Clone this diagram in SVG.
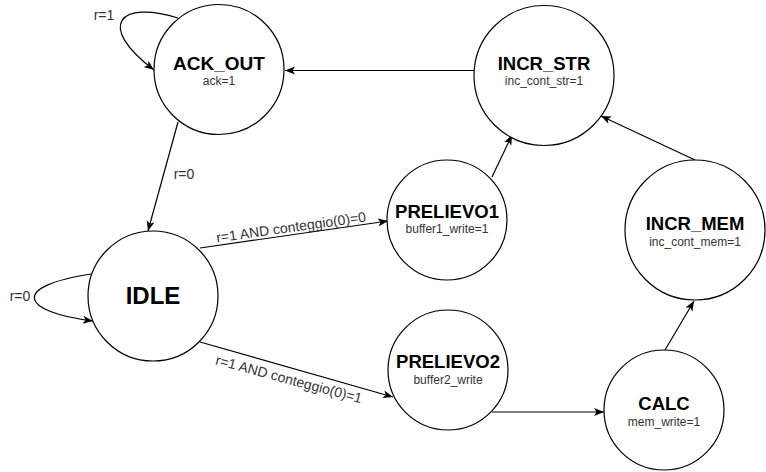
<svg xmlns="http://www.w3.org/2000/svg" width="766" height="472" viewBox="0 0 766 472">
<style>
.node{fill:#fff;stroke:#000;stroke-width:1.2}
.name{font-family:"Liberation Sans",Arial,sans-serif;font-weight:bold;font-size:18.5px;fill:#000;text-anchor:middle}
.sub{font-family:"Liberation Sans",Arial,sans-serif;font-size:12px;fill:#333;text-anchor:middle}
.lbl{font-family:"Liberation Sans",Arial,sans-serif;font-size:14px;fill:#333;text-anchor:middle}
.edge{fill:none;stroke:#000;stroke-width:1.2;marker-end:url(#arr)}
</style>
<defs>
<marker id="arr" markerUnits="userSpaceOnUse" markerWidth="12" markerHeight="10" refX="10" refY="4" orient="auto" viewBox="0 0 12 10">
<path d="M0,0 L10,4 L0,8 L2.5,4 z" fill="#000"/>
</marker>
</defs>
<rect width="766" height="472" fill="#fff"/>
<g id="connectors">
<path class="edge" d="M474,70.5 L285,70.5"/>
<path class="edge" d="M178,122 L148,231"/>
<path class="edge" d="M178,18 C120,0 95,25 154,70"/>
<path class="edge" d="M92,274 C10,286 20,312 93,321"/>
<path class="edge" d="M200,248 L388,221"/>
<path class="edge" d="M200,342 L393,397"/>
<path class="edge" d="M492,177 L512,135"/>
<path class="edge" d="M492,412 L604,412"/>
<path class="edge" d="M665,350 L694,301"/>
<path class="edge" d="M695,160 L601,116"/>
<text class="lbl" x="104" y="20">r=1</text>
<text class="lbl" x="184" y="179">r=0</text>
<text class="lbl" x="20" y="301">r=0</text>
<text class="lbl" transform="translate(291,227) rotate(-8)" y="5">r=1 AND conteggio(0)=0</text>
<text class="lbl" transform="translate(289,379) rotate(15)" y="5">r=1 AND conteggio(0)=1</text>
</g>
<g id="ACK_OUT">
<circle class="node" cx="219" cy="69.5" r="65"/>
<text class="name" x="219" y="70" style="font-size:19px">ACK_OUT</text>
<text class="sub" x="219" y="85">ack=1</text>
</g>
<g id="INCR_STR">
<circle class="node" cx="544" cy="75.5" r="70"/>
<text class="name" x="544" y="70">INCR_STR</text>
<text class="sub" x="544" y="85">inc_cont_str=1</text>
</g>
<g id="IDLE">
<circle class="node" cx="153" cy="296" r="65"/>
<text class="name" x="153" y="304" style="font-size:24px">IDLE</text>
</g>
<g id="PRELIEVO1">
<circle class="node" cx="447" cy="220" r="60"/>
<text class="name" x="447" y="218">PRELIEVO1</text>
<text class="sub" x="447" y="233">buffer1_write=1</text>
</g>
<g id="INCR_MEM">
<circle class="node" cx="695" cy="230" r="70"/>
<text class="name" x="695" y="230">INCR_MEM</text>
<text class="sub" x="695" y="246">inc_cont_mem=1</text>
</g>
<g id="PRELIEVO2">
<circle class="node" cx="448" cy="370" r="60"/>
<text class="name" x="448" y="368">PRELIEVO2</text>
<text class="sub" x="448" y="384">buffer2_write</text>
</g>
<g id="CALC">
<circle class="node" cx="664" cy="410" r="60"/>
<text class="name" x="664" y="410">CALC</text>
<text class="sub" x="664" y="426">mem_write=1</text>
</g>
</svg>
